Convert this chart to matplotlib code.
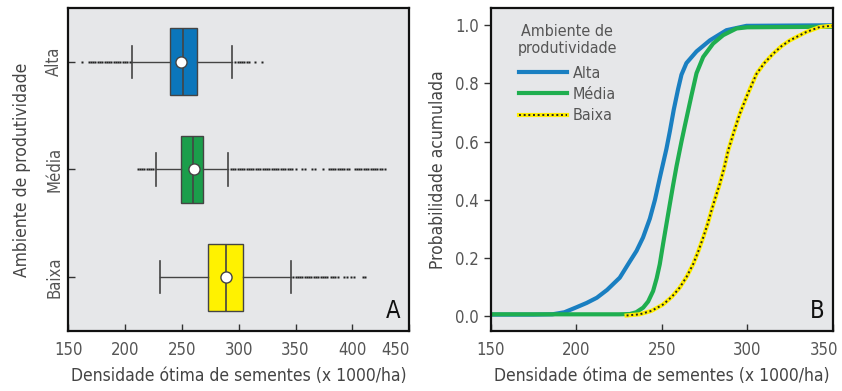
import matplotlib
matplotlib.use("Agg")
import matplotlib.pyplot as plt
from matplotlib.transforms import ScaledTranslation

plt.rcParams['font.family'] = ['DejaVu Sans']
plt.rcParams['font.stretch'] = 'condensed'

# ---- dados painel A (boxplot) ----
grupos = ["Alta", "Média", "Baixa"]
posicoes = [2, 1, 0]
cores = ["#0b76bb", "#1b9e4b", "#fff200"]
q1 = [239.5, 249, 273]
mediana = [251, 259.5, 288.5]
q3 = [263, 268.5, 303.5]
media = [249, 261, 288.5]
bigode_inf = [206, 227, 231]
bigode_sup = [294, 291, 346]
outliers_alta = [162.5, 168, 170, 172, 174, 176, 178, 180, 182, 184, 186, 188, 190,
                 192, 194, 196, 198, 200, 202, 204,
                 297, 299, 301, 303, 305, 307, 309, 314.5, 320.5]
outliers_media = [211, 213, 215, 217, 219, 221, 223, 225,
                  293, 295, 297, 299, 301, 303, 305, 307, 309, 311, 313, 315, 317,
                  319, 321, 323, 325, 327, 329, 331, 333, 335, 337, 339, 341, 343,
                  345, 347, 350.5, 355.5, 358.5, 364.5, 367, 374.5, 379, 381, 383,
                  385, 387, 389, 391, 393, 395, 397, 402, 404, 406, 408, 410, 412,
                  414, 416, 418, 420, 422, 424, 426, 428.5]
outliers_baixa = [348, 350, 352, 354, 356, 358, 360, 362, 364, 366, 368, 370, 372,
                  374, 376, 378, 381, 383, 385, 387, 393, 395.5, 399, 401.5, 409, 411]
outliers = [outliers_alta, outliers_media, outliers_baixa]

# ---- dados painel B (probabilidade acumulada) ----
alta_x = [150, 175, 186, 193, 200, 206, 212, 218, 225.4, 231, 235.2, 239, 243, 246,
          249, 252.7, 254.7, 257, 259.5, 261.5, 264.4, 270.3, 278.1, 287.8, 299.5, 350]
alta_y = [0.005, 0.005, 0.006, 0.013, 0.03, 0.045, 0.063, 0.09, 0.132, 0.185, 0.224,
          0.27, 0.335, 0.40, 0.48, 0.575, 0.635, 0.71, 0.78, 0.83, 0.87, 0.91,
          0.948, 0.983, 0.998, 1.0]
media_x = [150, 225, 231.3, 235, 239.1, 242, 244.9, 247, 248.8, 250.8, 252.7, 254.7,
           256.6, 258.6, 261.5, 263.5, 267.4, 270.3, 274.2, 280, 285.9, 293.7, 300, 350]
media_y = [0.006, 0.006, 0.007, 0.013, 0.029, 0.05, 0.086, 0.13, 0.178, 0.25, 0.316,
           0.385, 0.45, 0.515, 0.60, 0.655, 0.76, 0.835, 0.891, 0.937, 0.966, 0.989,
           0.993, 0.995]
baixa_x = [229.4, 237.1, 244, 250.8, 256, 260.5, 264.5, 268.3, 271.3, 274.2, 277, 279,
           281.5, 283.9, 286.5, 288.8, 292, 295.6, 300, 305.4, 310, 315.1, 320, 324.9,
           334.6, 342.4, 347.2, 350]
baixa_y = [0.002, 0.006, 0.018, 0.04, 0.067, 0.098, 0.135, 0.178, 0.222, 0.27, 0.32,
           0.362, 0.41, 0.454, 0.51, 0.569, 0.63, 0.695, 0.76, 0.833, 0.87, 0.902,
           0.928, 0.948, 0.977, 0.994, 0.997, 0.998]

fundo = "#e6e7e9"
cinza = "#555555"
borda = "#444444"

fig = plt.figure(figsize=(8.42, 3.91), dpi=100)
axA = fig.add_axes([0.081, 0.153, 0.405, 0.827])
axB = fig.add_axes([0.583, 0.153, 0.406, 0.827])

for ax in (axA, axB):
    ax.set_facecolor(fundo)
    for s in ax.spines.values():
        s.set_linewidth(1.6)
        s.set_color("#111111")

# ---- painel A ----
stats = []
for i in range(3):
    stats.append(dict(label=grupos[i], q1=q1[i], med=mediana[i], q3=q3[i],
                      mean=media[i], whislo=bigode_inf[i], whishi=bigode_sup[i],
                      fliers=outliers[i]))
bp = axA.bxp(stats, positions=posicoes, widths=0.62, vert=False, showmeans=True,
             patch_artist=True, capwidths=0.3,
             boxprops=dict(edgecolor=borda, linewidth=1.0),
             medianprops=dict(color=borda, linewidth=1.2),
             whiskerprops=dict(color=borda, linewidth=1.0),
             capprops=dict(color=borda, linewidth=1.2),
             meanprops=dict(marker='o', markerfacecolor='white',
                            markeredgecolor=borda, markersize=8),
             flierprops=dict(marker='s', markersize=2.0, markerfacecolor='#222222',
                             markeredgecolor='none'))
for caixa, cor in zip(bp['boxes'], cores):
    caixa.set_facecolor(cor)

axA.set_xlim(150, 450)
axA.set_ylim(-0.5, 2.5)
xt = [150, 200, 250, 300, 350, 400, 450]
axA.set_xticks(xt)
axA.set_xticklabels([str(v) for v in xt])
axA.get_xticklabels()[-1].set_horizontalalignment('right')
axA.set_yticks(posicoes)
axA.set_yticklabels(grupos, rotation=90, va='center')
axA.tick_params(direction='in', length=5, width=1, labelsize=12, labelcolor=cinza,
                color="#333333")
axA.tick_params(axis='x', pad=7)
axA.set_xlabel("Densidade ótima de sementes (x 1000/ha)", fontsize=12.5,
               color="#444444", labelpad=6)
axA.set_ylabel("Ambiente de produtividade", fontsize=12.5, color="#444444",
               labelpad=10)
axA.text(0.975, 0.025, "A", transform=axA.transAxes, ha='right', va='bottom',
         fontsize=17, color="#111111")

# ---- painel B ----
axB.plot(alta_x, alta_y, color="#1a7fc1", lw=3, label="Alta")
axB.plot(media_x, media_y, color="#1fae4f", lw=3, label="Média")
l_am, = axB.plot(baixa_x, baixa_y, color="#ffee00", lw=3)
l_pt, = axB.plot(baixa_x, baixa_y, color="#222222", lw=1.4, ls=(0, (1, 1.4)))
h, l = axB.get_legend_handles_labels()
leg = axB.legend(h + [(l_am, l_pt)], l + ["Baixa"], loc='upper left',
                 bbox_to_anchor=(0.045, 0.985), frameon=False, fontsize=11.5,
                 title="Ambiente de\nprodutividade", title_fontsize=11.5,
                 handlelength=3.0, handletextpad=0.35, labelspacing=0.38,
                 labelcolor=cinza, borderaxespad=0.3)
leg.get_title().set_color(cinza)
leg.get_title().set_multialignment('center')
leg._legend_box.sep = 7

axB.set_xlim(150, 350)
axB.set_ylim(-0.052, 1.06)
axB.set_xticks([150, 200, 250, 300, 350])
axB.set_yticks([0, 0.2, 0.4, 0.6, 0.8, 1.0])
axB.set_yticklabels(["0.0", "0.2", "0.4", "0.6", "0.8", "1.0"])
axB.tick_params(axis='x', direction='in', length=5, width=1, pad=7)
axB.tick_params(axis='y', direction='out', length=5, width=1)
axB.tick_params(labelsize=12, labelcolor=cinza, color="#333333")
ult = axB.get_xticklabels()[-1]
ult.set_transform(ult.get_transform() + ScaledTranslation(-6 / 72, 0, fig.dpi_scale_trans))
axB.set_xlabel("Densidade ótima de sementes (x 1000/ha)", fontsize=12.5,
               color="#444444", labelpad=6)
axB.set_ylabel("Probabilidade acumulada", fontsize=12.5, color="#444444",
               labelpad=6)
axB.text(0.975, 0.025, "B", transform=axB.transAxes, ha='right', va='bottom',
         fontsize=17, color="#111111")

fig.savefig("out.png", dpi=100, facecolor='white')
